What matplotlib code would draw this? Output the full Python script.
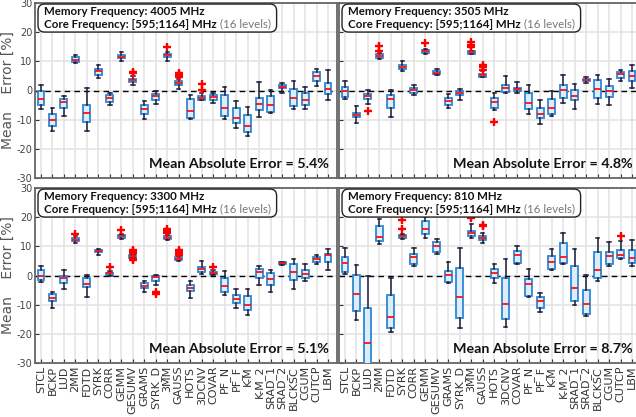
import matplotlib
matplotlib.use("Agg")
import matplotlib.pyplot as plt
from matplotlib.patches import FancyBboxPatch

plt.rcParams['font.family'] = ['Lato', 'DejaVu Sans']

# benchmark names along the x axis
benchmarks = ["STCL", "BCKP", "LUD", "2MM", "FDTD", "SYRK", "CORR", "GEMM", "GESUMV",
              "GRAMS", "SYRK_D", "3MM", "GAUSS", "HOTS", "3DCNV", "COVAR", "PF_N", "PF_F",
              "K-M", "K-M_2", "SRAD_1", "SRAD_2", "BLCKSC", "CGUM", "CUTCP", "LBM"]

# memory frequency 4005 MHz
lo_4005 = [-6.2, -14.0, -8.9, 9.4, -14.0, 4.4, -4.8, 10.2, 1.9, -9.7, -4.5, 10.2, 0.6,
           -9.9, -3.4, -4.3, -9.7, -12.7, -15.6, -9.0, -7.6, -1.0, -6.5, -6.5, 1.7, -3.1]
q1_4005 = [-4.8, -12.0, -6.1, 9.8, -10.7, 5.2, -3.9, 11.0, 2.8, -8.2, -3.1, 11.5, 1.8,
           -9.3, -3.1, -3.3, -8.8, -11.3, -14.3, -6.8, -7.3, 0.7, -5.3, -5.1, 3.2, -1.1]
med_4005 = [-2.8, -10.0, -3.9, 10.6, -7.8, 6.6, -2.7, 11.6, 3.5, -6.5, -1.9, 12.2, 2.6,
            -6.9, -2.4, -2.2, -6.1, -9.3, -12.3, -4.7, -5.0, 1.2, -2.6, -3.1, 5.1, 0.5]
q3_4005 = [-0.3, -8.2, -2.8, 11.4, -5.0, 7.5, -1.7, 12.2, 4.1, -5.1, -1.1, 12.6, 3.1,
           -2.8, -1.9, -1.4, -1.6, -5.9, -8.5, -2.5, -1.8, 1.9, 0.6, -0.8, 6.5, 2.6]
hi_4005 = [1.9, -6.1, -1.9, 12.2, 0.8, 8.9, -0.8, 13.1, 5.0, -3.5, -0.2, 13.2, 3.8,
           -1.6, -1.0, -0.9, 1.3, -3.5, -5.7, 2.8, 0.3, 2.6, 3.4, 1.3, 7.3, 7.0]
fl_4005 = {8: [6.4, 5.9], 11: [14.8], 12: [6.1, 5.3, 4.7], 14: [2.4, 0.3]}

# memory frequency 3505 MHz
lo_3505 = [-2.8, -11.3, -4.5, 10.9, -9.1, 6.8, -1.6, 12.5, 5.2, -5.9, -3.1, 12.5, 4.5,
           -6.8, -0.8, -1.0, -8.0, -11.6, -8.8, -4.2, -6.5, 2.6, -4.7, -4.9, 3.3, 0.9]
q1_3505 = [-2.2, -9.2, -2.8, 11.3, -6.0, 7.4, -0.8, 12.8, 5.5, -4.9, -1.7, 12.6, 4.6,
           -5.9, -0.5, -0.3, -6.3, -9.5, -8.0, -2.6, -3.4, 3.1, -2.5, -2.3, 4.4, 3.2]
med_3505 = [-0.2, -8.4, -1.9, 11.9, -2.8, 8.2, 0.1, 13.5, 6.1, -3.5, -0.8, 13.1, 5.2,
            -3.9, 0.9, 0.5, -4.3, -8.1, -6.0, 0.2, -2.0, 3.6, 0.5, -0.2, 5.5, 5.1]
q3_3505 = [1.3, -7.6, -1.1, 12.4, -1.6, 8.9, 0.7, 14.0, 6.7, -2.7, -0.1, 13.4, 5.7,
           -2.6, 1.9, 1.0, -1.0, -6.1, -3.0, 1.9, 0.3, 4.0, 3.5, 1.7, 6.4, 6.6]
hi_3505 = [3.3, -5.3, 0.3, 12.8, 0.3, 10.0, 1.9, 14.3, 7.3, -1.2, 0.5, 13.6, 6.6,
           -0.8, 5.0, 3.0, 1.9, -3.4, -0.3, 5.2, 2.4, 4.7, 5.2, 3.9, 7.2, 8.6]
fl_3505 = {2: [-6.9], 3: [15.3, 13.4], 7: [16.3], 11: [16.6, 15.6, 14.8],
           12: [8.8, 8.0, 7.0], 13: [-10.7]}

# memory frequency 3300 MHz
lo_3300 = [-2.2, -11.2, -4.5, 11.0, -7.3, 7.1, -0.3, 12.5, 5.9, -5.5, -3.3, 12.2, 4.9,
           -7.8, 0.4, 0.2, -6.7, -11.1, -13.5, -3.1, -5.7, 3.5, -4.6, -2.0, 4.0, 1.9]
q1_3300 = [-1.5, -8.8, -2.7, 11.7, -3.9, 8.0, 0.2, 12.9, 6.1, -4.4, -1.8, 12.5, 5.2,
           -5.4, 1.2, 0.6, -5.5, -9.4, -11.9, -0.8, -3.4, 3.8, -1.5, -1.0, 4.7, 4.5]
med_3300 = [0.0, -7.8, -0.8, 12.2, -2.9, 8.5, 0.7, 13.5, 6.6, -3.5, -0.6, 12.9, 5.8,
            -4.3, 2.2, 1.0, -3.7, -8.2, -10.0, 1.2, -1.2, 4.2, 1.3, 0.5, 5.6, 7.0]
q3_3300 = [2.0, -6.5, -0.1, 12.7, -0.9, 8.9, 1.0, 13.9, 7.0, -2.6, 0.0, 13.5, 6.4,
           -3.1, 3.0, 1.3, -0.9, -6.7, -7.0, 2.2, 0.8, 4.5, 3.8, 2.0, 6.3, 7.5]
hi_3300 = [3.3, -5.5, 1.8, 13.6, 0.3, 9.1, 1.5, 14.3, 7.2, -1.9, 0.2, 14.0, 6.6,
           -1.8, 4.9, 1.8, 1.7, -4.7, -4.5, 3.1, 1.9, 4.7, 5.6, 4.0, 7.2, 9.0]
fl_3300 = {3: [14.3], 6: [3.0], 7: [15.6], 8: [8.9, 8.3, 7.8, 5.6, 5.2], 10: [-5.8, -6.4],
           11: [16.0, 15.3, 14.6], 12: [8.7, 8.1, 7.5, 7.0], 15: [2.9]}

# memory frequency 810 MHz
lo_810 = [0.6, -15.4, -36.0, 10.9, -19.4, 12.4, 3.4, 12.8, 7.4, -2.6, -18.1, 12.9, 11.0,
          -2.4, -17.5, 4.1, -7.3, -12.5, 1.9, 3.8, -10.0, -14.0, -1.9, 3.3, 5.7, 3.3]
q1_810 = [1.2, -12.2, -33.0, 11.8, -18.1, 12.9, 3.9, 14.3, 8.0, -2.1, -14.5, 13.7, 12.1,
          -0.9, -14.8, 4.4, -7.0, -11.0, 2.3, 4.4, -8.6, -13.1, -0.7, 3.8, 6.1, 4.2]
med_810 = [4.2, -6.3, -23.1, 13.1, -14.3, 13.6, 6.2, 15.8, 10.0, 0.3, -7.2, 14.7, 12.8,
           0.8, -9.9, 7.0, -2.9, -8.6, 4.6, 6.4, -4.4, -9.9, 1.8, 6.7, 7.2, 6.1]
q3_810 = [6.3, 0.1, -11.3, 17.1, -6.6, 14.0, 7.5, 18.8, 11.5, 1.7, 2.6, 15.4, 13.4,
          2.1, -1.0, 8.3, -1.1, -7.3, 6.8, 11.2, 3.4, -5.0, 7.9, 8.1, 8.7, 8.7]
hi_810 = [9.6, 3.6, -0.3, 19.3, -0.8, 14.4, 9.3, 19.9, 12.5, 4.7, 9.6, 17.6, 14.7,
          3.9, 5.6, 10.0, 2.3, -5.9, 9.2, 14.7, 9.2, 0.2, 13.0, 11.4, 11.7, 12.3]
fl_810 = {5: [19.0, 16.1], 11: [19.6], 12: [17.2, 16.9], 24: [13.5]}

mem_freqs = ["4005", "3505", "3300", "810"]
mae = [5.4, 4.8, 5.1, 8.7]


def make_stats(lo, q1, med, q3, hi, fl):
    stats = []
    for i in range(len(med)):
        stats.append({"whislo": lo[i], "q1": q1[i], "med": med[i], "q3": q3[i],
                      "whishi": hi[i], "fliers": fl.get(i, [])})
    return stats


panels = [make_stats(lo_4005, q1_4005, med_4005, q3_4005, hi_4005, fl_4005),
          make_stats(lo_3505, q1_3505, med_3505, q3_3505, hi_3505, fl_3505),
          make_stats(lo_3300, q1_3300, med_3300, q3_3300, hi_3300, fl_3300),
          make_stats(lo_810, q1_810, med_810, q3_810, hi_810, fl_810)]

W, H = 636, 417
fig = plt.figure(figsize=(W / 100, H / 100), dpi=100)

# axes boxes in pixels: left, top, right, bottom
boxes_px = [(35, 3, 337, 178), (339, 3, 641, 178),
            (35, 188, 337, 363), (339, 188, 641, 363)]

pos = list(range(1, len(benchmarks) + 1))
tick_font = ['DejaVu Sans']

for k in range(4):
    l, t, r, b = boxes_px[k]
    ax = fig.add_axes([l / W, 1 - b / H, (r - l) / W, (b - t) / H])

    ax.axhline(0, color="black", lw=1.0, ls=(0, (4, 3)), zorder=1)
    ax.bxp(panels[k], positions=pos, widths=0.6, capwidths=0.3, patch_artist=True,
           boxprops=dict(facecolor="#dcedfa", edgecolor="#2f86d2", linewidth=1.3),
           medianprops=dict(color="#ff1010", linewidth=1.3),
           whiskerprops=dict(color="#1c1c3c", linewidth=1.1),
           capprops=dict(color="#1c1c3c", linewidth=1.1),
           flierprops=dict(marker="+", markeredgecolor="#ff0000", markersize=5.5,
                           markeredgewidth=1.7, linestyle="none"),
           zorder=3)

    ax.set_xlim(0.48, 26.78)
    ax.set_ylim(-30, 30)
    ax.set_yticks([-30, -20, -10, 0, 10, 20, 30])
    ax.set_xticks(pos)
    ax.grid(True, color="#e2e2e2", lw=1.1, zorder=0)
    ax.set_axisbelow(True)
    ax.tick_params(direction="in", length=3, color="#333333", labelcolor="#444444", pad=2)
    for s in ax.spines.values():
        s.set_color("#666666")
        s.set_linewidth(1.3)

    if k % 2 == 0:
        ax.set_yticklabels(["-30", "-20", "-10", "0", "10", "20", "30"], fontsize=7,
                           family=tick_font)
        ax.set_ylabel("Mean    Error [%]", fontsize=10, color="#555555", family=tick_font)
        ax.yaxis.set_label_coords(-0.068, 0.5)
    else:
        ax.set_yticklabels([])
    if k >= 2:
        ax.set_xticklabels(benchmarks, rotation=90, fontsize=8, color="#333333",
                           family=tick_font)
    else:
        ax.set_xticklabels([])

    # frequency info box
    frame = FancyBboxPatch((0.01, 0.834), 0.79, 0.16, transform=ax.transAxes,
                           boxstyle="round,pad=0,rounding_size=0.022",
                           mutation_aspect=(r - l) / (b - t),
                           facecolor="white", edgecolor="#222222", lw=1.0, zorder=5)
    ax.add_patch(frame)
    ax.text(0.03, 0.931, "Memory Frequency: %s MHz" % mem_freqs[k], transform=ax.transAxes,
            fontsize=8.3, fontweight="bold", color="#111111", va="baseline", zorder=6)
    core = ax.text(0.03, 0.859, "Core Frequency: [595;1164] MHz", transform=ax.transAxes,
                   fontsize=8.3, fontweight="bold", color="#111111", va="baseline", zorder=6)
    ax.annotate(" (16 levels)", xy=(1, 0), xycoords=core, va="bottom", ha="left",
                fontsize=8.3, color="#777777", zorder=6)

    ax.text(0.973, 0.057, "Mean Absolute Error = %.1f%%" % mae[k], transform=ax.transAxes,
            fontsize=10.3, fontweight="bold", color="#111111", ha="right", va="baseline",
            zorder=6)

fig.savefig("out.png", dpi=100)
